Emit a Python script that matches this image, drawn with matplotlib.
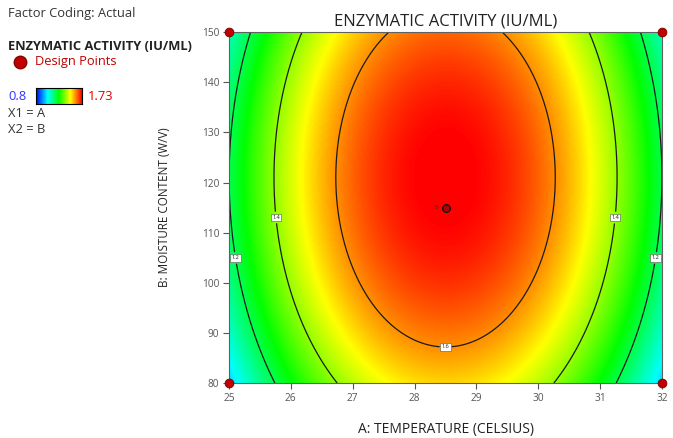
import numpy as np
import matplotlib.pyplot as plt
from matplotlib.colors import LinearSegmentedColormap

plt.rcParams['font.family'] = ['Open Sans', 'DejaVu Sans']

# factor ranges (actual units)
temp_range = [25, 32]
moist_range = [80, 150]
temp_ticks = [25, 26, 27, 28, 29, 30, 31, 32]
moist_ticks = [80, 90, 100, 110, 120, 130, 140, 150]

# quadratic model in coded units: b0 + b2*X2 - b11*X1^2 - b22*X2^2
b0 = 1.734
b2 = 0.051
b11 = 0.54
b22 = 0.148

contour_levels = [1.2, 1.4, 1.6]
color_min, color_max = 0.8, 1.73

# design points
design_temp = [25, 25, 32, 32, 28.5]
design_moist = [80, 150, 80, 150, 115]
center_reps = 5

# label spots for the contour lines
label_spots = [(25.13, 105), (31.87, 105), (25.73, 113), (31.24, 113), (28.5, 88)]

T = np.linspace(temp_range[0], temp_range[1], 300)
M = np.linspace(moist_range[0], moist_range[1], 300)
TT, MM = np.meshgrid(T, M)
X1 = (TT - 28.5) / 3.5
X2 = (MM - 115) / 35
Z = b0 + b2 * X2 - b11 * X1**2 - b22 * X2**2

cmap = LinearSegmentedColormap.from_list(
    'de', ['#0000ff', '#00ffff', '#00ff00', '#ffff00', '#ff0000'])

fig = plt.figure(figsize=(6.73, 4.38), dpi=100)
ax = fig.add_axes([0.340, 0.1256, 0.644, 0.801])

ax.imshow(Z, extent=[T[0], T[-1], M[0], M[-1]], origin='lower', aspect='auto',
          cmap=cmap, vmin=color_min, vmax=color_max, interpolation='bilinear')
cs = ax.contour(TT, MM, Z, levels=contour_levels, colors='#1a1a1a', linewidths=0.9)
labels = ax.clabel(cs, fmt='%.1f', fontsize=4, inline=True, inline_spacing=2,
                   manual=label_spots)
for t in labels:
    t.set_rotation(0)
    t.set_bbox(dict(facecolor='white', edgecolor='#555555', linewidth=0.4, pad=1.0))

ax.scatter(design_temp[:4], design_moist[:4], s=40, color='#c00000',
           edgecolors='#7a0000', linewidths=0.6, zorder=5, clip_on=False)
ax.scatter(design_temp[4:], design_moist[4:], s=30, color='#b00000',
           edgecolors='#111111', linewidths=1.0, zorder=5)
ax.text(design_temp[4] - 0.12, design_moist[4], str(center_reps), fontsize=4,
        ha='right', va='center', color='#222222')

ax.set_xlim(temp_range)
ax.set_ylim(moist_range)
ax.set_xticks(temp_ticks)
ax.set_yticks(moist_ticks)
ax.tick_params(labelsize=7.3, colors='#555555', length=4, width=0.8, pad=3)
for s in ax.spines.values():
    s.set_color('#606060')
    s.set_linewidth(0.8)

ax.set_title('ENZYMATIC ACTIVITY (IU/ML)', fontsize=12, color='#222222', pad=5)
ax.set_xlabel('A: TEMPERATURE (CELSIUS)', fontsize=10, color='#222222', labelpad=13)
ax.set_ylabel('B: MOISTURE CONTENT (W/V)', fontsize=8.4, color='#222222', labelpad=22)

# left-hand key
fig.text(8 / 673, 1 - 14 / 438, 'Factor Coding: Actual', fontsize=9.3,
         color='#333333', va='center')
fig.text(8 / 673, 1 - 46 / 438, 'ENZYMATIC ACTIVITY (IU/ML)', fontsize=9.3,
         fontweight='bold', color='#222222', va='center')
fig.add_artist(plt.Line2D([20 / 673], [1 - 62 / 438], marker='o', markersize=9,
                          color='#c00000', markeredgecolor='#8a0000',
                          transform=fig.transFigure))
fig.text(35 / 673, 1 - 62 / 438, 'Design Points', fontsize=9.3,
         color='#c00000', va='center')
fig.text(8 / 673, 1 - 96 / 438, '0.8', fontsize=9.3, color='#3333ff', va='center')
fig.text(88 / 673, 1 - 96 / 438, '1.73', fontsize=9.3, color='#dd0000', va='center')
cax = fig.add_axes([36 / 673, 1 - 104 / 438, 46 / 673, 16 / 438])
cax.imshow(np.linspace(0, 1, 200)[None, :], aspect='auto', cmap=cmap)
cax.set_xticks([])
cax.set_yticks([])
for s in cax.spines.values():
    s.set_linewidth(0.8)
fig.text(8 / 673, 1 - 113 / 438, 'X1 = A', fontsize=9.3, color='#333333', va='center')
fig.text(8 / 673, 1 - 129 / 438, 'X2 = B', fontsize=9.3, color='#333333', va='center')

fig.savefig('out.png', dpi=100)
